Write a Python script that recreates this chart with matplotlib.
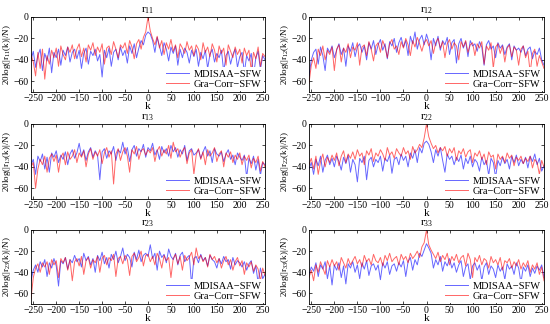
import matplotlib
matplotlib.use('Agg')
import matplotlib.pyplot as plt
import numpy as np

plt.rcParams['font.family'] = ['Liberation Serif', 'DejaVu Serif']
plt.rcParams['mathtext.fontset'] = 'custom'
plt.rcParams['mathtext.rm'] = 'Liberation Serif'
plt.rcParams['mathtext.it'] = 'Liberation Serif'

# lag axis, sampled every 5 lags
k = np.arange(-255, 256, 5)

names = ['11', '12', '13', '22', '23', '33']
labels = ['MDISAA\u2212SFW', 'Gra\u2212Corr\u2212SFW']

# values (dB), k = -255 ... 255
r11_blue = [-40, -32, -47, -36, -30, -50, -34, -41, -29, -52,
            -33, -38, -30, -45, -31, -36, -28, -42, -33, -30,
            -39, -31, -48, -34, -29, -44, -32, -36, -30, -41,
            -35, -56, -31, -38, -29, -46, -33, -30, -40, -28,
            -36, -31, -43, -27, -34, -25, -38, -29, -22, -26, -17,
            -14,
            -16, -22, -33, -19, -27, -36, -24, -30, -41, -28,
            -34, -27, -45, -30, -38, -29, -33, -43, -31, -37,
            -30, -46, -33, -39, -31, -48, -35, -30, -42, -34,
            -38, -31, -51, -36, -32, -44, -35, -30, -47, -37,
            -33, -52, -36, -41, -34, -55, -38, -32, -49, -36, -40]
r11_red = [-35, -42, -55, -33, -48, -30, -58, -36, -44, -31,
           -38, -29, -46, -27, -35, -40, -28, -33, -26, -39,
           -30, -25, -37, -29, -42, -26, -31, -24, -36, -28,
           -33, -25, -44, -29, -27, -35, -23, -30, -38, -26,
           -29, -24, -34, -22, -28, -39, -25, -21, -30, -19, -14,
           0,
           -13, -20, -26, -18, -29, -22, -35, -24, -30, -21,
           -32, -26, -38, -25, -29, -34, -23, -31, -27, -36,
           -26, -30, -40, -24, -33, -28, -37, -25, -31, -42,
           -27, -34, -29, -45, -26, -32, -38, -28, -35, -30,
           -43, -29, -36, -31, -50, -33, -39, -28, -46, -34, -37]

r12_blue = [-55, -40, -33, -30, -44, -28, -36, -50, -29, -33,
            -27, -38, -31, -25, -35, -29, -46, -27, -32, -24,
            -37, -28, -25, -33, -27, -40, -24, -30, -22, -35,
            -26, -21, -31, -25, -39, -23, -27, -20, -33, -24,
            -19, -28, -22, -36, -18, -25, -14, -30, -21, -17, -26,
            -16,
            -23, -40, -20, -27, -18, -31, -22, -26, -19, -35,
            -24, -21, -43, -25, -20, -29, -23, -37, -22, -27,
            -25, -32, -23, -28, -45, -26, -22, -30, -27, -38,
            -24, -29, -26, -35, -28, -25, -40, -27, -31, -29,
            -33, -27, -36, -30, -28, -39, -32, -35, -29, -40, -45]
r12_red = [-62, -45, -38, -48, -30, -36, -27, -40, -31, -35,
           -28, -50, -30, -26, -42, -29, -33, -25, -38, -28,
           -31, -24, -45, -28, -26, -36, -23, -30, -41, -27,
           -24, -33, -22, -28, -38, -25, -21, -30, -27, -35,
           -23, -29, -20, -26, -36, -22, -28, -19, -25, -32, -24,
           -21,
           -27, -22, -34, -24, -20, -29, -23, -38, -25, -21,
           -30, -24, -27, -40, -23, -28, -22, -33, -26, -24,
           -36, -25, -29, -23, -44, -27, -31, -24, -48, -28,
           -25, -34, -27, -42, -29, -26, -37, -28, -31, -45,
           -30, -27, -38, -32, -52, -34, -30, -46, -36, -42, -48]

r13_blue = [-38, -33, -47, -30, -35, -28, -42, -31, -45, -27,
            -31, -25, -36, -29, -33, -26, -38, -28, -24, -32,
            -27, -18, -30, -24, -34, -26, -22, -31, -25, -29,
            -52, -26, -23, -32, -25, -28, -21, -34, -24, -27,
            -17, -28, -22, -35, -24, -20, -30, -23, -26, -19, -31,
            -22,
            -25, -18, -29, -24, -33, -21, -27, -23, -30, -20,
            -26, -22, -31, -24, -28, -20, -34, -25, -23, -29,
            -27, -24, -32, -26, -21, -30, -25, -36, -23, -28,
            -30, -26, -35, -28, -24, -33, -29, -38, -27, -31,
            -34, -29, -50, -32, -37, -30, -43, -33, -48, -36, -38]
r13_red = [-40, -36, -60, -42, -33, -38, -30, -45, -32, -28,
           -35, -29, -45, -31, -27, -38, -26, -33, -30, -24,
           -36, -27, -31, -25, -40, -28, -23, -33, -26, -30,
           -24, -37, -27, -22, -31, -25, -56, -28, -23, -34,
           -26, -22, -30, -45, -24, -28, -21, -33, -25, -23, -29,
           -24,
           -27, -22, -35, -25, -21, -30, -24, -28, -20, -32,
           -17, -26, -23, -31, -25, -22, -37, -27, -24, -47,
           -29, -23, -33, -26, -38, -24, -30, -27, -22, -35,
           -28, -25, -40, -27, -31, -26, -36, -29, -33, -27,
           -38, -30, -34, -29, -41, -32, -36, -30, -44, -35, -40]

r22_blue = [-42, -36, -47, -33, -39, -30, -45, -34, -29, -38,
            -32, -40, -30, -35, -43, -31, -37, -29, -45, -33,
            -38, -54, -32, -36, -30, -52, -34, -31, -40, -33,
            -36, -30, -44, -32, -35, -29, -46, -33, -31, -38,
            -28, -34, -30, -40, -27, -32, -24, -36, -22, -27, -18,
            -16,
            -19, -26, -36, -24, -30, -22, -34, -45, -28, -33,
            -30, -38, -31, -35, -29, -42, -32, -37, -30, -40,
            -33, -36, -44, -31, -38, -34, -48, -32, -36, -50,
            -34, -39, -31, -37, -33, -42, -30, -36, -29, -39,
            -33, -37, -31, -41, -30, -35, -28, -38, -32, -44, -39]
r22_red = [-38, -32, -42, -30, -47, -35, -28, -40, -31, -36,
           -29, -34, -27, -39, -30, -25, -36, -28, -32, -26,
           -33, -24, -30, -27, -38, -25, -29, -23, -35, -27,
           -30, -24, -28, -34, -22, -29, -26, -32, -23, -27,
           -30, -22, -28, -25, -33, -21, -27, -24, -19, -22, -13,
           0,
           -12, -18, -23, -20, -27, -22, -25, -21, -30, -23,
           -27, -22, -34, -25, -28, -23, -31, -26, -24, -36,
           -27, -30, -25, -33, -28, -38, -26, -31, -29, -42,
           -28, -33, -30, -36, -27, -32, -29, -39, -31, -34,
           -30, -37, -32, -35, -30, -41, -33, -36, -47, -34, -40]

r23_blue = [-48, -38, -33, -40, -30, -35, -28, -44, -31, -36,
            -27, -34, -53, -29, -32, -26, -37, -28, -31, -24,
            -30, -27, -35, -22, -29, -25, -33, -27, -40, -24,
            -29, -21, -32, -26, -36, -23, -28, -20, -31, -25,
            -17, -29, -23, -26, -35, -21, -28, -19, -30, -24, -22,
            -25,
            -14, -27, -22, -38, -20, -26, -23, -31, -18, -25,
            -28, -22, -33, -24, -21, -30, -26, -24, -52, -27,
            -25, -31, -23, -29, -26, -34, -24, -28, -30, -36,
            -27, -32, -25, -30, -28, -37, -26, -33, -29, -31,
            -35, -30, -38, -32, -29, -41, -34, -50, -36, -46, -42]
r23_red = [-65, -45, -36, -32, -40, -31, -35, -30, -42, -28,
           -33, -29, -45, -27, -31, -26, -38, -28, -48, -30,
           -27, -34, -25, -42, -29, -26, -36, -28, -31, -25,
           -40, -27, -24, -33, -26, -29, -23, -44, -27, -25,
           -32, -24, -28, -43, -25, -22, -30, -26, -20, -34, -24,
           -23,
           -30, -25, -33, -22, -27, -36, -24, -29, -26, -45,
           -27, -23, -32, -25, -38, -24, -29, -26, -21, -33,
           -17, -27, -24, -30, -26, -35, -23, -28, -25, -31,
           -27, -36, -29, -25, -33, -28, -38, -30, -26, -34,
           -29, -42, -31, -35, -30, -39, -33, -37, -48, -36, -43]

r33_blue = [-42, -35, -39, -31, -44, -33, -37, -30, -46, -34,
            -52, -33, -38, -31, -45, -34, -51, -32, -36, -30,
            -40, -33, -46, -31, -37, -29, -43, -34, -32, -38,
            -33, -47, -31, -36, -30, -42, -34, -32, -39, -31,
            -35, -29, -44, -30, -26, -38, -28, -33, -22, -25, -19,
            -13,
            -17, -22, -36, -28, -33, -25, -39, -30, -34, -27,
            -36, -31, -40, -33, -29, -44, -35, -32, -47, -34,
            -31, -38, -33, -48, -35, -31, -42, -34, -37, -45,
            -33, -39, -35, -47, -32, -37, -34, -42, -31, -36,
            -50, -35, -39, -33, -44, -36, -41, -34, -38, -33, -45]
r33_red = [-45, -38, -48, -33, -40, -30, -36, -42, -29, -35,
           -28, -34, -30, -38, -26, -31, -36, -27, -33, -29,
           -25, -32, -28, -35, -24, -30, -27, -33, -23, -29,
           -31, -26, -34, -24, -29, -22, -30, -27, -25, -33,
           -23, -28, -25, -31, -22, -27, -24, -20, -26, -16, -12,
           0,
           -14, -19, -23, -27, -21, -30, -24, -28, -22, -33,
           -25, -29, -23, -31, -26, -24, -34, -22, -28, -45,
           -26, -30, -24, -33, -27, -29, -36, -25, -31, -28,
           -33, -26, -38, -29, -31, -27, -36, -30, -34, -28,
           -37, -31, -35, -29, -40, -33, -37, -31, -42, -35, -48]

blue = [r11_blue, r12_blue, r13_blue, r22_blue, r23_blue, r33_blue]
red = [r11_red, r12_red, r13_red, r22_red, r23_red, r33_red]

fig = plt.figure(figsize=(5.5, 3.24), dpi=100)
W, H = 550.0, 324.0
cols = [(31, 234), (309, 235)]
rows = [(17, 92), (124, 199), (230, 304)]

for i in range(6):
    r, c = divmod(i, 2)
    x0, w = cols[c]
    top, bot = rows[r]
    ax = fig.add_axes([x0 / W, 1 - bot / H, w / W, (bot - top) / H])
    ax.plot(k, blue[i], color='blue', lw=0.7, alpha=0.6, label=labels[0])
    ax.plot(k, red[i], color='red', lw=0.7, alpha=0.6, label=labels[1])
    ax.set_xlim(-255, 255)
    ax.set_ylim(-70, 0)
    ax.set_xticks(np.arange(-250, 251, 50))
    ax.set_yticks([-60, -40, -20, 0])
    ax.tick_params(direction='in', top=True, right=True, labelsize=7,
                   length=2.5, width=0.5, pad=1.5)
    for s in ax.spines.values():
        s.set_linewidth(0.6)
    ax.set_title('r$_{' + names[i] + '}$', fontsize=8, pad=3)
    ax.set_xlabel('k', fontsize=8, labelpad=-0.5)
    ax.set_ylabel('20log(|r$_{' + names[i] + '}$(k)|/N)', fontsize=6.5, labelpad=0.5)
    leg = ax.legend(loc='lower right', fontsize=7.5, frameon=True, fancybox=False,
                    borderaxespad=0.1, handlelength=2.2, borderpad=0.2,
                    labelspacing=0.1, handletextpad=0.5)
    leg.get_frame().set_edgecolor('none')
    leg.get_frame().set_alpha(1.0)

plt.savefig('out.png', dpi=100)
